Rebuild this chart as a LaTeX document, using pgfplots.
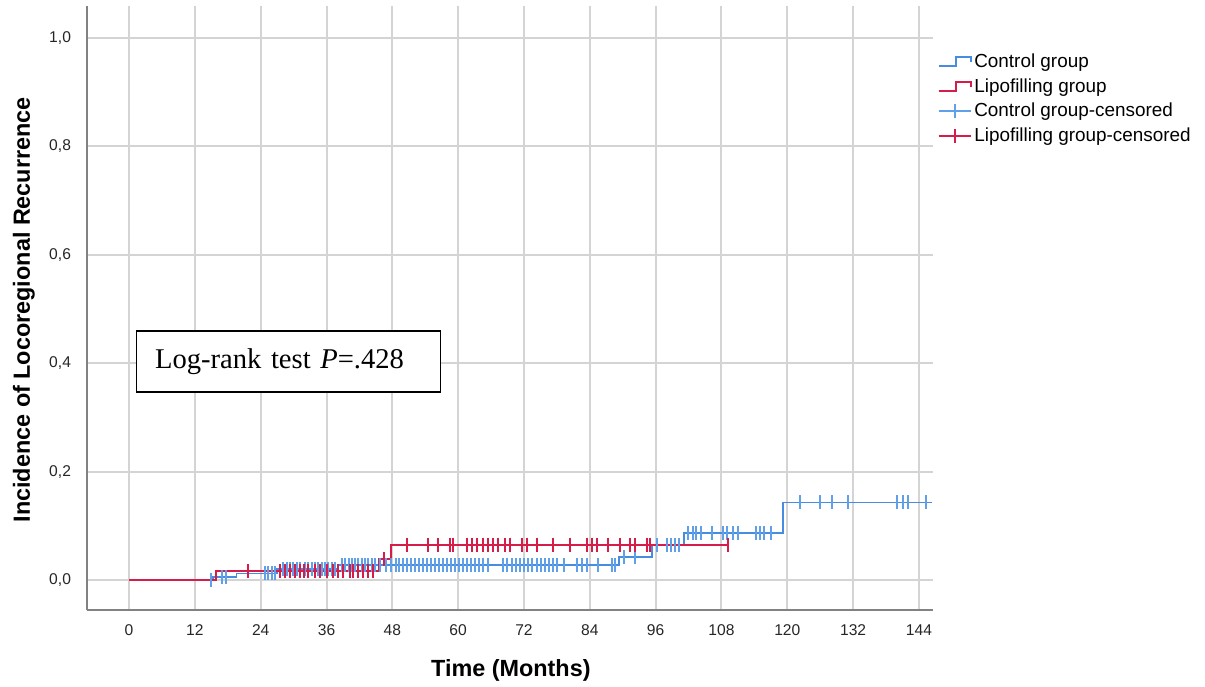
\documentclass[border=0pt]{standalone}
\usepackage{pgfplots}
\usepackage{pgfplotstable}
\pgfplotsset{compat=1.18}
\usepackage{fontspec}
\setmainfont{Liberation Sans}
\newfontfamily\timesfont{Liberation Serif}
\definecolor{ctrl}{RGB}{70,140,225}
\definecolor{ctrlc}{RGB}{95,160,232}
\definecolor{lipo}{RGB}{214,28,72}
\definecolor{gridc}{RGB}{212,212,212}
\definecolor{axc}{RGB}{130,130,130}

\pgfplotsset{
  stepicon/.style={legend image code/.code={\draw[color=#1, line width=0.9pt] (0pt,-2pt) -- (8.5pt,-2pt) -- (8.5pt,2.5pt) -- (16pt,2.5pt) -- (16pt,0pt);}},
  censicon/.style={legend image code/.code={\draw[color=#1, line width=0.9pt] (0pt,0pt) -- (16pt,0pt); \draw[color=#1, line width=0.9pt] (8pt,-3.5pt) -- (8pt,3.5pt);}},
}

\pgfplotstableread{
t y
0 0
15.3 0.0055
19.6 0.012
27.0 0.020
38.2 0.027
89.3 0.042
95.3 0.064
101.1 0.087
119.2 0.143
146.3 0.143
}\ctrlline

\pgfplotstableread{
t y
0 0
15.9 0.017
45.6 0.038
47.7 0.065
109.2 0.065
}\lipoline

\pgfplotstableread{
t y
14.9 0
17.0 0.0055
17.7 0.0055
24.8 0.012
25.3 0.012
26.1 0.012
26.6 0.012
28.1 0.020
28.8 0.020
29.3 0.020
29.9 0.020
30.6 0.020
31.2 0.020
32.1 0.020
32.6 0.020
33.4 0.020
33.9 0.020
34.5 0.020
35.2 0.020
35.7 0.020
36.3 0.020
37.0 0.020
37.6 0.020
38.8 0.027
39.4 0.027
40.1 0.027
40.6 0.027
41.2 0.027
41.7 0.027
42.5 0.027
43.0 0.027
43.6 0.027
44.3 0.027
44.9 0.027
45.8 0.027
46.9 0.027
47.8 0.027
48.7 0.027
49.2 0.027
49.9 0.027
50.7 0.027
51.4 0.027
52.1 0.027
52.9 0.027
53.6 0.027
54.3 0.027
55.0 0.027
55.8 0.027
56.5 0.027
57.2 0.027
58.0 0.027
58.7 0.027
59.4 0.027
60.2 0.027
60.9 0.027
61.6 0.027
62.3 0.027
63.1 0.027
63.8 0.027
64.5 0.027
65.4 0.027
68.2 0.027
68.9 0.027
69.8 0.027
70.5 0.027
71.3 0.027
72.0 0.027
72.7 0.027
73.5 0.027
74.4 0.027
75.1 0.027
75.8 0.027
76.6 0.027
77.3 0.027
78.0 0.027
79.3 0.027
81.7 0.027
82.6 0.027
83.5 0.027
85.5 0.027
88.0 0.027
88.6 0.027
90.2 0.042
92.2 0.042
96.2 0.064
98.1 0.064
98.8 0.064
99.5 0.064
100.3 0.064
101.9 0.087
102.8 0.087
103.4 0.087
104.3 0.087
106.3 0.087
108.3 0.087
109.0 0.087
110.1 0.087
111.0 0.087
114.3 0.087
115.0 0.087
115.7 0.087
117.0 0.087
122.3 0.143
126.0 0.143
128.1 0.143
131.0 0.143
140.0 0.143
141.1 0.143
142.0 0.143
145.3 0.143
}\ctrlcens

\pgfplotstableread{
t y
21.7 0.017
27.5 0.017
28.4 0.017
29.3 0.017
30.3 0.017
31.2 0.017
31.9 0.017
32.6 0.017
33.9 0.017
34.8 0.017
36.1 0.017
37.2 0.017
38.1 0.017
39.0 0.017
40.3 0.017
40.8 0.017
41.7 0.017
42.7 0.017
43.6 0.017
44.5 0.017
46.5 0.038
50.7 0.065
54.5 0.065
56.3 0.065
58.5 0.065
59.1 0.065
61.6 0.065
62.5 0.065
63.4 0.065
64.5 0.065
65.4 0.065
66.4 0.065
67.3 0.065
68.5 0.065
69.4 0.065
71.6 0.065
72.5 0.065
74.4 0.065
77.3 0.065
80.4 0.065
83.5 0.065
84.4 0.065
85.3 0.065
87.3 0.065
89.5 0.065
91.3 0.065
92.2 0.065
94.4 0.065
95.0 0.065
109.2 0.065
}\lipocens

\begin{document}
\begin{tikzpicture}
\begin{axis}[
  scale only axis,
  width=423pt, height=302pt,
  xmin=-7.66, xmax=146.56,
  ymin=-0.0554, ymax=1.059,
  axis x line*=bottom, axis y line*=left,
  axis line style={-, color=axc, line width=0.8pt},
  xtick={0,12,24,36,48,60,72,84,96,108,120,132,144},
  xticklabels={0,12,24,36,48,60,72,84,96,108,120,132,144},
  ytick={0,0.2,0.4,0.6,0.8,1.0},
  yticklabels={{0,0},{0,2},{0,4},{0,6},{0,8},{1,0}},
  major tick length=0pt,
  grid=major,
  major grid style={color=gridc, line width=1pt},
  tick label style={font=\fontsize{7.8}{9}\selectfont, color=black!85},
  xticklabel style={yshift=-4pt},
  yticklabel style={xshift=-4.5pt},
  xlabel={Time (Months)},
  ylabel={Incidence of Locoregional Recurrence},
  label style={font=\fontsize{11.7}{13}\selectfont\bfseries},
  xlabel style={at={(axis description cs:0.501,-0.0993)}, anchor=center},
  ylabel style={at={(axis description cs:-0.0745,0.497)}, anchor=center},
  legend cell align=left,
  legend style={at={(rel axis cs:0.998,0.9325)}, anchor=north west, draw=none, fill=none,
    font=\fontsize{9.45}{11}\selectfont, row sep=1.1pt,
    nodes={inner sep=1.4pt}},
]
\addplot[const plot, color=ctrl, line width=0.9pt, stepicon=ctrl]
  table[x=t,y=y] {\ctrlline};
\addlegendentry{Control group}
\addplot[const plot, color=lipo, line width=0.9pt, stepicon=lipo]
  table[x=t,y=y] {\lipoline};
\addlegendentry{Lipofilling group}
\addplot[only marks, mark=|, mark size=3.5pt, color=ctrlc, mark options={line width=0.9pt}, censicon=ctrlc]
  table[x=t,y=y] {\ctrlcens};
\addlegendentry{Control group-censored}
\addplot[only marks, mark=|, mark size=3.5pt, color=lipo, mark options={line width=0.9pt}, censicon=lipo]
  table[x=t,y=y] {\lipocens};
\addlegendentry{Lipofilling group-censored}
\node[draw=black, line width=0.6pt, fill=white, minimum width=152pt, minimum height=30.5pt,
  text width=133pt, inner xsep=9.5pt, align=left, anchor=center,
  font=\timesfont\fontsize{14.3}{16}\selectfont]
  at (axis cs:29.0,0.403) {Log-rank test \textit{P}=.428};
\end{axis}
\pgfresetboundingbox
\path[use as bounding box] (-43.5pt,-38pt) rectangle (559pt,305pt);
\end{tikzpicture}
\end{document}
